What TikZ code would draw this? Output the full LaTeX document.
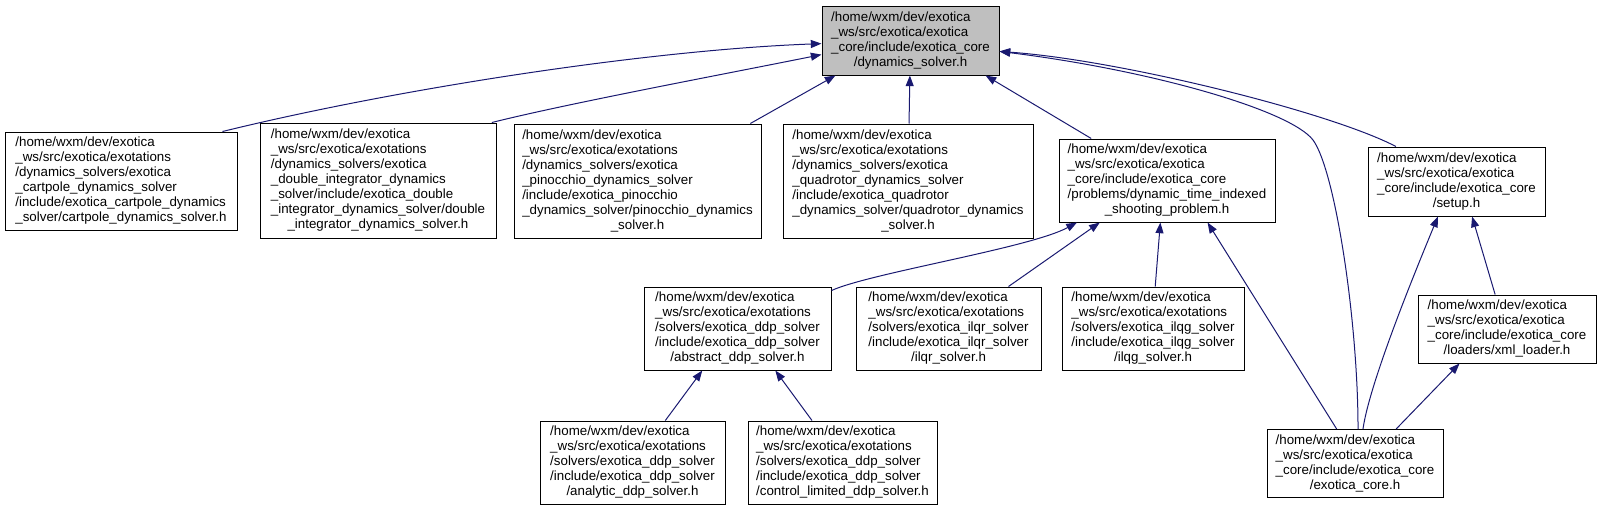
\documentclass[tikz,border=0pt]{standalone}
\usepackage{fontspec}
\setmainfont{Liberation Sans}
\usetikzlibrary{arrows.meta}
\definecolor{edgeblue}{RGB}{25,25,112}
\newcommand{\hfile}[2]{\begin{tabular}{@{}l@{}}#1\\\multicolumn{1}{@{}c@{}}{#2}\end{tabular}}

\begin{document}
\begin{tikzpicture}[x=0.75pt, y=-0.75pt,
		file/.style 2 args={draw=black, line width=0.75pt, inner sep=0pt,
			minimum width=#1*0.75pt, minimum height=#2*0.75pt,
			font=\fontsize{10}{11.25}\selectfont},
		dep/.style={->, draw=edgeblue, line width=0.75pt},
		>={Triangle[length=8pt, width=6pt]}]
		\useasboundingbox (0,0) rectangle (1601,511);
		\node[file={177}{69}, fill=black!25] (dyn) at (910.5, 40.5) {\hfile{/home/wxm/dev/exotica\\\_ws/src/exotica/exotica\\\_core/include/exotica\_core}{/dynamics\_solver.h}};
		\node[file={232}{98}] (cart) at (121, 181) {\hfile{/home/wxm/dev/exotica\\\_ws/src/exotica/exotations\\/dynamics\_solvers/exotica\\\_cartpole\_dynamics\_solver\\/include/exotica\_cartpole\_dynamics}{\_solver/cartpole\_dynamics\_solver.h}};
		\node[file={236}{115}] (dint) at (378, 180.5) {\hfile{/home/wxm/dev/exotica\\\_ws/src/exotica/exotations\\/dynamics\_solvers/exotica\\\_double\_integrator\_dynamics\\\_solver/include/exotica\_double\\\_integrator\_dynamics\_solver/double}{\_integrator\_dynamics\_solver.h}};
		\node[file={247}{114}] (pino) at (637.5, 181) {\hfile{/home/wxm/dev/exotica\\\_ws/src/exotica/exotations\\/dynamics\_solvers/exotica\\\_pinocchio\_dynamics\_solver\\/include/exotica\_pinocchio\\\_dynamics\_solver/pinocchio\_dynamics}{\_solver.h}};
		\node[file={250}{114}] (quad) at (908, 181) {\hfile{/home/wxm/dev/exotica\\\_ws/src/exotica/exotations\\/dynamics\_solvers/exotica\\\_quadrotor\_dynamics\_solver\\/include/exotica\_quadrotor\\\_dynamics\_solver/quadrotor\_dynamics}{\_solver.h}};
		\node[file={216}{83}] (shoot) at (1167, 180.5) {\hfile{/home/wxm/dev/exotica\\\_ws/src/exotica/exotica\\\_core/include/exotica\_core\\/problems/dynamic\_time\_indexed}{\_shooting\_problem.h}};
		\node[file={177}{69}] (setup) at (1456.5, 181.5) {\hfile{/home/wxm/dev/exotica\\\_ws/src/exotica/exotica\\\_core/include/exotica\_core}{/setup.h}};
		\node[file={187}{83}] (abs) at (737.5, 328.5) {\hfile{/home/wxm/dev/exotica\\\_ws/src/exotica/exotations\\/solvers/exotica\_ddp\_solver\\/include/exotica\_ddp\_solver}{/abstract\_ddp\_solver.h}};
		\node[file={185}{83}] (ilqr) at (948.5, 328.5) {\hfile{/home/wxm/dev/exotica\\\_ws/src/exotica/exotations\\/solvers/exotica\_ilqr\_solver\\/include/exotica\_ilqr\_solver}{/ilqr\_solver.h}};
		\node[file={182}{83}] (ilqg) at (1153, 328.5) {\hfile{/home/wxm/dev/exotica\\\_ws/src/exotica/exotations\\/solvers/exotica\_ilqg\_solver\\/include/exotica\_ilqg\_solver}{/ilqg\_solver.h}};
		\node[file={178}{68}] (xml) at (1507, 329) {\hfile{/home/wxm/dev/exotica\\\_ws/src/exotica/exotica\\\_core/include/exotica\_core}{/loaders/xml\_loader.h}};
		\node[file={185}{83}] (ana) at (632.5, 462.5) {\hfile{/home/wxm/dev/exotica\\\_ws/src/exotica/exotations\\/solvers/exotica\_ddp\_solver\\/include/exotica\_ddp\_solver}{/analytic\_ddp\_solver.h}};
		\node[file={189}{83}] (ctl) at (842.5, 462.5) {\hfile{/home/wxm/dev/exotica\\\_ws/src/exotica/exotations\\/solvers/exotica\_ddp\_solver\\/include/exotica\_ddp\_solver}{/control\_limited\_ddp\_solver.h}};
		\node[file={176}{68}] (core) at (1355, 463.5) {\hfile{/home/wxm/dev/exotica\\\_ws/src/exotica/exotica\\\_core/include/exotica\_core}{/exotica\_core.h}};
                \draw[dep] (cart.26) .. controls (400,88) and (650,50) .. (dyn.182);
                \draw[dep] (dint.27) .. controls (570,103) and (720,75) .. (dyn.189);
                \draw[dep] (pino.27) -- (dyn.205);
                \draw[dep] (quad) -- (dyn);
                \draw[dep] (shoot.151) -- (dyn.335);
                \draw[dep] (core.85) .. controls (1358,320) and (1335,170) .. (1313,140) .. controls (1290,110) and (1150,70) .. (dyn.353);
                \draw[dep] (setup.150) .. controls (1330,112) and (1120,60) .. (dyn.353);
                \draw[dep] (abs.22) .. controls (870,273) and (1030,248) .. (shoot.205);
                \draw[dep] (ilqr.35) -- (shoot.212);
                \draw[dep] (ilqg.87) -- (shoot.261);
                \draw[dep] (core.118) -- (shoot.314);
                \draw[dep] (core.77) .. controls (1370,380) and (1420,260) .. (setup.242);
                \draw[dep] (xml.109) -- (setup.294);
                \draw[dep] (core.40) -- (xml.216);
                \draw[dep] (ana.52) -- (abs.230);
                \draw[dep] (ctl.126) -- (abs.312);
		\end{tikzpicture}
\end{document}
